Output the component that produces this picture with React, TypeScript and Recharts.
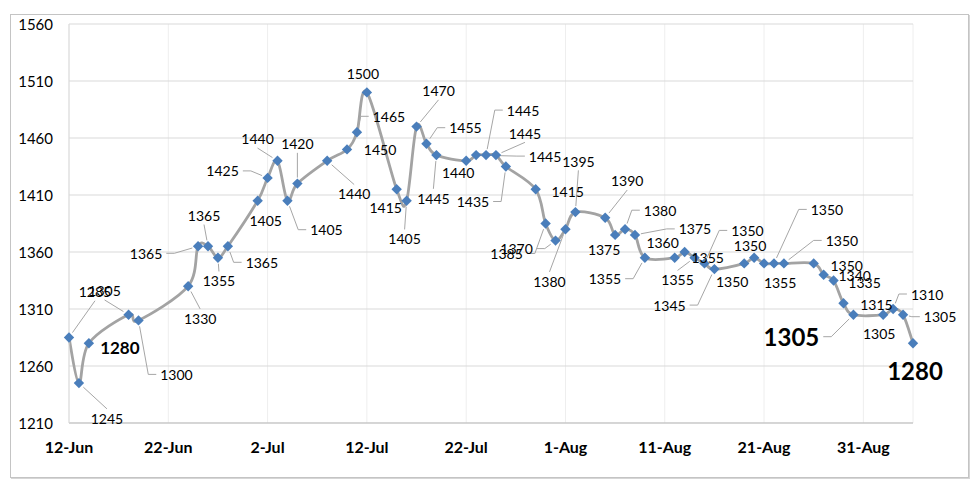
import React from 'react';
import { LineChart, Line, XAxis, YAxis, CartesianGrid } from 'recharts';

// ---------- data ----------
const YEAR = 2024;
const MONTHS = ['Jan', 'Feb', 'Mar', 'Apr', 'May', 'Jun', 'Jul', 'Aug', 'Sep', 'Oct', 'Nov', 'Dec'];

const dates = [
  '2024-06-12', '2024-06-13', '2024-06-14', '2024-06-18', '2024-06-19',
  '2024-06-24', '2024-06-25', '2024-06-26', '2024-06-27', '2024-06-28',
  '2024-07-01', '2024-07-02', '2024-07-03', '2024-07-04', '2024-07-05',
  '2024-07-08', '2024-07-10', '2024-07-11', '2024-07-12',
  '2024-07-15', '2024-07-16', '2024-07-17', '2024-07-18', '2024-07-19',
  '2024-07-22', '2024-07-23', '2024-07-24', '2024-07-25', '2024-07-26',
  '2024-07-29', '2024-07-30', '2024-07-31', '2024-08-01', '2024-08-02',
  '2024-08-05', '2024-08-06', '2024-08-07', '2024-08-08', '2024-08-09',
  '2024-08-12', '2024-08-13', '2024-08-14', '2024-08-15', '2024-08-16',
  '2024-08-19', '2024-08-20', '2024-08-21', '2024-08-22', '2024-08-23',
  '2024-08-26', '2024-08-27', '2024-08-28', '2024-08-29', '2024-08-30',
  '2024-09-02', '2024-09-03', '2024-09-04', '2024-09-05',
];

const prices = [
  1285, 1245, 1280, 1305, 1300,
  1330, 1365, 1365, 1355, 1365,
  1405, 1425, 1440, 1405, 1420,
  1440, 1450, 1465, 1500,
  1415, 1405, 1470, 1455, 1445,
  1440, 1445, 1445, 1445, 1435,
  1415, 1385, 1370, 1380, 1395,
  1390, 1375, 1380, 1375, 1355,
  1355, 1360, 1355, 1350, 1345,
  1350, 1355, 1350, 1350, 1350,
  1350, 1340, 1335, 1315, 1305,
  1305, 1310, 1305, 1280,
];

const yTicks = [1210, 1260, 1310, 1360, 1410, 1460, 1510, 1560];
const xTickLabels = ['12-Jun', '22-Jun', '2-Jul', '12-Jul', '22-Jul', '1-Aug', '11-Aug', '21-Aug', '31-Aug'];
const xDomainDates = ['2024-06-12', '2024-09-05'];

// ---------- label layout (offset from marker, leader side) ----------
const labelLayout: [number, number, string][] = [
  [26, -46, 'B'], [28, 35, 'T'], [31, 4, ''], [-24, -24, 'B'], [38, 54, 'L'],
  [12, 32, 'T'], [-52, 7, 'R'], [-4, -31, 'B'], [1, 23, 'T'], [34, 16, 'L'],
  [8, 20, ''], [-45, -7, 'R'], [-20, -22, 'B'], [39, 29, 'L'], [0, -40, 'B'],
  [27, 33, 'T'], [33, 0, ''], [32, -16, 'L'], [-4, -19, ''],
  [-11, 18, ''], [-2, 38, 'T'], [22, -36, 'B'], [39, -16, 'L'], [-3, 43, 'T'],
  [-8, 12, ''], [69, 1, 'L'], [37, -45, 'L'], [29, -22, 'B'], [-33, 35, 'R'],
  [32, 2, ''], [-39, 30, 'R'], [-39, 8, 'R'], [-16, 52, 'T'], [3, -51, 'B'],
  [22, -37, 'B'], [-11, 15, ''], [35, -19, 'L'], [60, -6, 'L'], [-40, 21, 'R'],
  [33, 0, ''], [-22, -10, ''], [-17, 22, 'T'], [43, -33, 'L'], [-45, 36, 'R'],
  [-12, 18, ''], [26, 25, ''], [-14, -18, ''], [53, -54, 'L'], [58, -23, 'L'],
  [33, 2, ''], [31, 1, ''], [31, 2, ''], [33, 1, ''], [-62, 22, 'R'],
  [-4, 19, ''], [34, -15, 'L'], [37, 2, 'L'], [2, 27, ''],
];
const emphasized: Record<number, number> = { 2: 17, 53: 24, 57: 24 };

// ---------- helpers ----------
const toTime = (iso: string) => Date.parse(iso + 'T00:00:00Z');
const labelToTime = (lbl: string) => {
  const [d, m] = lbl.split('-');
  return Date.UTC(YEAR, MONTHS.indexOf(m), Number(d));
};
const fmtDate = (t: number) => {
  const d = new Date(t);
  return `${d.getUTCDate()}-${MONTHS[d.getUTCMonth()]}`;
};

const data = dates.map((d, i) => ({ t: toTime(d), price: prices[i] }));
const xTicks = xTickLabels.map(labelToTime);
const xDomain = xDomainDates.map(toTime);

const FONT = 'Lato, "Open Sans", sans-serif';
const MARKER = '#4a7ebb';
const LINE = '#a3a3a3';

// Excel-like smoothed line (Catmull-Rom style bezier)
const excelCurve = (context: any) => {
  let pts: number[][] = [];
  return {
    areaStart() {},
    areaEnd() {},
    lineStart() {
      pts = [];
    },
    point(x: number, y: number) {
      pts.push([+x, +y]);
    },
    lineEnd() {
      const n = pts.length;
      if (!n) return;
      context.moveTo(pts[0][0], pts[0][1]);
      const k = 1 / 6;
      for (let i = 0; i < n - 1; i++) {
        const p0 = pts[i - 1] || pts[i];
        const p1 = pts[i];
        const p2 = pts[i + 1];
        const p3 = pts[i + 2] || p2;
        context.bezierCurveTo(
          p1[0] + (p2[0] - p0[0]) * k,
          p1[1] + (p2[1] - p0[1]) * k,
          p2[0] - (p3[0] - p1[0]) * k,
          p2[1] - (p3[1] - p1[1]) * k,
          p2[0],
          p2[1]
        );
      }
    },
  };
};

const geom = (index: number, cx: number, cy: number, value: number) => {
  const [dx, dy, side] = labelLayout[index] || [0, -18, ''];
  const fs = emphasized[index] || 14;
  const bold = !!emphasized[index];
  const lx = cx + dx;
  const ly = cy + dy;
  const w = String(value).length * 0.58 * fs;
  const h = fs * 0.75;
  return { lx, ly, fs, bold, w, h, side };
};

const LeaderDot = (props: any) => {
  const { cx, cy, index, value } = props;
  if (cx == null || cy == null) return null;
  const v = Array.isArray(value) ? value[1] : value;
  const g = geom(index, cx, cy, v);
  if (!g.side) return <g key={`ld${index}`} />;
  let pts: number[][] = [];
  if (g.side === 'L') pts = [[g.lx - g.w / 2 - 4, g.ly], [g.lx - g.w / 2 - 12, g.ly]];
  else if (g.side === 'R') pts = [[g.lx + g.w / 2 + 4, g.ly], [g.lx + g.w / 2 + 12, g.ly]];
  else if (g.side === 'T') pts = [[g.lx, g.ly - g.h / 2 - 4]];
  else pts = [[g.lx, g.ly + g.h / 2 + 4]];
  const last = pts[pts.length - 1];
  const ddx = cx - last[0];
  const ddy = cy - last[1];
  const len = Math.hypot(ddx, ddy) || 1;
  const shrink = Math.min(6, len);
  pts.push([cx - (ddx / len) * shrink, cy - (ddy / len) * shrink]);
  return (
    <polyline
      key={`ld${index}`}
      points={pts.map((p) => p.join(',')).join(' ')}
      fill="none"
      stroke="#a6a6a6"
      strokeWidth={1}
    />
  );
};

const DiamondDot = (props: any) => {
  const { cx, cy, index } = props;
  if (cx == null || cy == null) return null;
  const r = 5.2;
  return (
    <path
      key={`dm${index}`}
      d={`M${cx},${cy - r}L${cx + r},${cy}L${cx},${cy + r}L${cx - r},${cy}Z`}
      fill={MARKER}
    />
  );
};

const TextDot = (props: any) => {
  const { cx, cy, index, value } = props;
  if (cx == null || cy == null) return null;
  const v = Array.isArray(value) ? value[1] : value;
  const g = geom(index, cx, cy, v);
  return (
    <text
      key={`tx${index}`}
      x={g.lx}
      y={g.ly}
      textAnchor="middle"
      dominantBaseline="central"
      fontFamily={FONT}
      fontSize={g.fs}
      fontWeight={g.bold ? 700 : 400}
      fill="#000"
    >
      {v}
    </text>
  );
};

const XTick = (props: any) => {
  const { x, y, payload } = props;
  return (
    <text
      x={x}
      y={y + 23}
      textAnchor="middle"
      dominantBaseline="central"
      fontFamily={FONT}
      fontSize={16}
      fontWeight={700}
      fill="#000"
    >
      {fmtDate(payload.value)}
    </text>
  );
};

const YTick = (props: any) => {
  const { x, y, payload } = props;
  return (
    <text
      x={x}
      y={y}
      textAnchor="end"
      dominantBaseline="central"
      fontFamily={FONT}
      fontSize={15}
      fill="#000"
    >
      {payload.value}
    </text>
  );
};

export default function App() {
  return (
    <div
      style={{
        position: 'absolute',
        left: 0,
        top: 0,
        width: 980,
        height: 488,
        background: '#fff',
      }}
    >
      <div
        style={{
          position: 'absolute',
          left: 10,
          top: 14,
          width: 957,
          height: 462,
          border: '1px solid #c4c4c4',
          boxShadow: '1px 1px 0 #d6d6d6',
        }}
      />
      <div style={{ position: 'absolute', left: 0, top: 0 }}>
        <LineChart
          width={980}
          height={488}
          data={data}
          margin={{ top: 24, right: 67, bottom: 10, left: 9 }}
        >
          <CartesianGrid horizontal={false} vertical stroke="#eeeeee" />
          <CartesianGrid horizontal vertical={false} stroke="#d9d9d9" />
          <XAxis
            dataKey="t"
            type="number"
            domain={xDomain}
            ticks={xTicks}
            height={55}
            tickSize={0}
            tickMargin={0}
            tickLine={false}
            axisLine={{ stroke: '#bfbfbf', strokeWidth: 1 }}
            tick={<XTick />}
            interval={0}
          />
          <YAxis
            type="number"
            domain={[1210, 1560]}
            ticks={yTicks}
            width={60}
            tickSize={0}
            tickMargin={16}
            tickLine={false}
            axisLine={{ stroke: '#d9d9d9' }}
            tick={<YTick />}
            interval={0}
          />
          <Line
            dataKey="price"
            stroke="none"
            type="linear"
            dot={LeaderDot}
            activeDot={false}
            isAnimationActive={false}
            legendType="none"
          />
          <Line
            dataKey="price"
            stroke={LINE}
            strokeWidth={2.8}
            type={excelCurve as any}
            dot={DiamondDot}
            activeDot={false}
            isAnimationActive={false}
          />
          <Line
            dataKey="price"
            stroke="none"
            type="linear"
            dot={TextDot}
            activeDot={false}
            isAnimationActive={false}
            legendType="none"
          />
        </LineChart>
      </div>
    </div>
  );
}
